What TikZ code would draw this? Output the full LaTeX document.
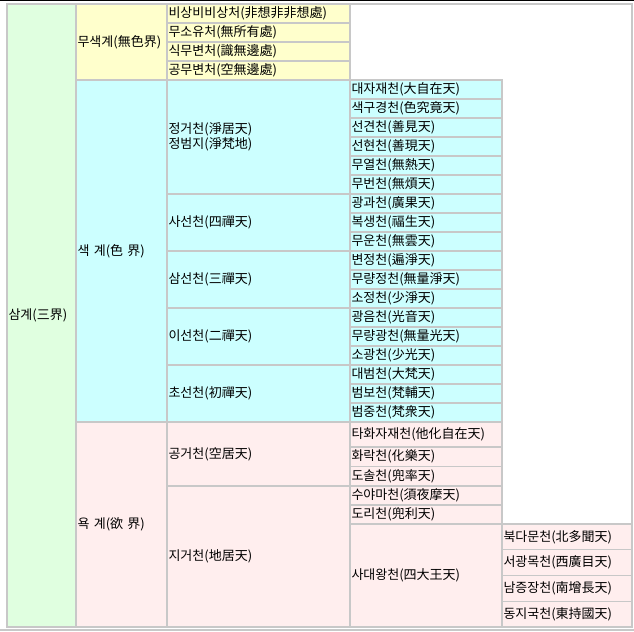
\documentclass[tikz,border=0pt]{standalone}
\usepackage{fontspec}
\newfontfamily\kr{Noto Sans CJK KR}
\usepackage{tikz}
\usetikzlibrary{positioning}
\usepackage{xcolor}
\definecolor{GridGray}{HTML}{C8C8C8}
\definecolor{SamGreen}{HTML}{E0FFE0}
\definecolor{MuYellow}{HTML}{FFFFCC}
\definecolor{SaekCyan}{HTML}{CCFFFF}
\definecolor{YokPink}{HTML}{FFEEEE}
\tikzset{%
  cell/.style={%
    rectangle,%
    draw=GridGray,%
    line width=1.2bp,%
    inner xsep=1.5bp,%
    inner ysep=0pt,%
    outer sep=0pt,%
    align=left,%
    font={\kr\fontsize{13bp}{15bp}\selectfont},%
  },
  realm/.style={cell, text width=66bp},
  world/.style={cell, text width=88bp},
  heaven/.style={cell, text width=180bp},
  deva/.style={cell, text width=149bp},
  king/.style={cell, text width=127bp, minimum height=25.75bp},
  row/.style={minimum height=19bp},
  frame/.style={%
    rectangle,%
    draw=GridGray,%
    line width=1.2bp,%
    inner sep=0pt,%
    outer sep=0pt,%
    minimum width=625bp,%
    minimum height=623bp,%
  },
}

\begin{document}
\begin{tikzpicture}[x=1bp, y=-1bp]
  \useasboundingbox (0,0) rectangle (634,632);
  \draw[black, line width=1.5bp] (0,0.75) -- (634,0.75);
  \draw[GridGray, line width=1.2bp] (0,630) -- (634,630);

  % three realms
  \node[realm, fill=SamGreen, minimum height=623bp, anchor=north west] (Sam) at (7,4) {삼계(三界)};
  \node[world, fill=MuYellow, minimum height=76bp, anchor=north west, at = {(Sam.north east)}] (Mu) {무색계(無色界)};
  \node[world, fill=SaekCyan, minimum height=342bp, below = 0 of Mu] (Saek) {색 계(色 界)};
  \node[world, fill=YokPink, minimum height=205bp, below = 0 of Saek] (Yok) {욕 계(欲 界)};

  % formless realm
  \node[heaven, row, fill=MuYellow, anchor=north west, at = {(Mu.north east)}] (Mu1) {비상비비상처(非想非非想處)};
  \node[heaven, row, fill=MuYellow, below = 0 of Mu1] (Mu2) {무소유처(無所有處)};
  \node[heaven, row, fill=MuYellow, below = 0 of Mu2] (Mu3) {식무변처(識無邊處)};
  \node[heaven, row, fill=MuYellow, below = 0 of Mu3] (Mu4) {공무변처(空無邊處)};

  % form realm
  \node[heaven, fill=SaekCyan, minimum height=114bp, anchor=north west, at = {(Saek.north east)}] (Jg) {정거천(淨居天)\\정범지(淨梵地)};
  \node[heaven, fill=SaekCyan, minimum height=57bp, below = 0 of Jg] (Sa) {사선천(四禪天)};
  \node[heaven, fill=SaekCyan, minimum height=57bp, below = 0 of Sa] (Sm) {삼선천(三禪天)};
  \node[heaven, fill=SaekCyan, minimum height=57bp, below = 0 of Sm] (Ii) {이선천(二禪天)};
  \node[heaven, fill=SaekCyan, minimum height=57bp, below = 0 of Ii] (Ch) {초선천(初禪天)};

  \node[deva, row, fill=SaekCyan, anchor=north west, at = {(Jg.north east)}] (Sg1) {대자재천(大自在天)};
  \node[deva, row, fill=SaekCyan, below = 0 of Sg1] (Sg2) {색구경천(色究竟天)};
  \node[deva, row, fill=SaekCyan, below = 0 of Sg2] (Sg3) {선견천(善見天)};
  \node[deva, row, fill=SaekCyan, below = 0 of Sg3] (Sg4) {선현천(善現天)};
  \node[deva, row, fill=SaekCyan, below = 0 of Sg4] (Sg5) {무열천(無熱天)};
  \node[deva, row, fill=SaekCyan, below = 0 of Sg5] (Sg6) {무번천(無煩天)};
  \node[deva, row, fill=SaekCyan, below = 0 of Sg6] (Sg7) {광과천(廣果天)};
  \node[deva, row, fill=SaekCyan, below = 0 of Sg7] (Sg8) {복생천(福生天)};
  \node[deva, row, fill=SaekCyan, below = 0 of Sg8] (Sg9) {무운천(無雲天)};
  \node[deva, row, fill=SaekCyan, below = 0 of Sg9] (Sg10) {변정천(遍淨天)};
  \node[deva, row, fill=SaekCyan, below = 0 of Sg10] (Sg11) {무량정천(無量淨天)};
  \node[deva, row, fill=SaekCyan, below = 0 of Sg11] (Sg12) {소정천(少淨天)};
  \node[deva, row, fill=SaekCyan, below = 0 of Sg12] (Sg13) {광음천(光音天)};
  \node[deva, row, fill=SaekCyan, below = 0 of Sg13] (Sg14) {무량광천(無量光天)};
  \node[deva, row, fill=SaekCyan, below = 0 of Sg14] (Sg15) {소광천(少光天)};
  \node[deva, row, fill=SaekCyan, below = 0 of Sg15] (Sg16) {대범천(大梵天)};
  \node[deva, row, fill=SaekCyan, below = 0 of Sg16] (Sg17) {범보천(梵輔天)};
  \node[deva, row, fill=SaekCyan, below = 0 of Sg17] (Sg18) {범중천(梵衆天)};

  % desire realm
  \node[heaven, fill=YokPink, minimum height=64bp, anchor=north west, at = {(Yok.north east)}] (Gg) {공거천(空居天)};
  \node[heaven, fill=YokPink, minimum height=141bp, below = 0 of Gg] (Jj) {지거천(地居天)};

  \node[deva, fill=YokPink, minimum height=25bp, anchor=north west, at = {(Gg.north east)}] (Yk1) {타화자재천(他化自在天)};
  \node[deva, fill=YokPink, minimum height=19.5bp, below = 0 of Yk1] (Yk2) {화락천(化樂天)};
  \node[deva, fill=YokPink, minimum height=19.5bp, below = 0 of Yk2] (Yk3) {도솔천(兜率天)};
  \node[deva, row, fill=YokPink, below = 0 of Yk3] (Yk4) {수야마천(須夜摩天)};
  \node[deva, row, fill=YokPink, below = 0 of Yk4] (Yk5) {도리천(兜利天)};
  \node[deva, fill=YokPink, minimum height=103bp, below = 0 of Yk5] (Sdw) {사대왕천(四大王天)};

  \node[king, fill=YokPink, anchor=north west, at = {(Sdw.north east)}] (Sd1) {북다문천(北多聞天)};
  \node[king, fill=YokPink, below = 0 of Sd1] (Sd2) {서광목천(西廣目天)};
  \node[king, fill=YokPink, below = 0 of Sd2] (Sd3) {남증장천(南增長天)};
  \node[king, fill=YokPink, below = 0 of Sd3] (Sd4) {동지국천(東持國天)};

  \node[frame, anchor=north west] (Frame) at (7,4) {};

\end{tikzpicture}
\end{document}
